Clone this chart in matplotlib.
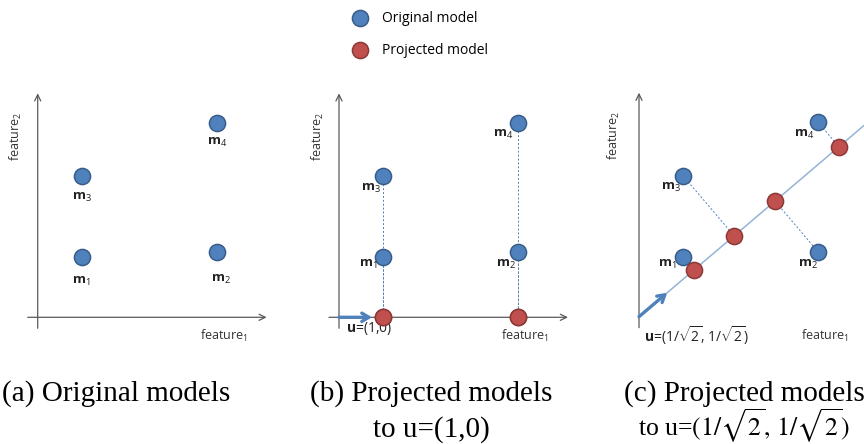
import matplotlib.pyplot as plt
import numpy as np

# sans text for the diagrams, mathtext follows the same family
plt.rcParams['font.family'] = ['Open Sans', 'DejaVu Sans']
plt.rcParams['mathtext.fontset'] = 'custom'
plt.rcParams['mathtext.rm'] = 'Open Sans'
plt.rcParams['mathtext.it'] = 'Open Sans:italic'
plt.rcParams['mathtext.bf'] = 'Open Sans:bold'

# model positions in feature space
feature1 = np.array([44, 179, 44, 179])
feature2 = np.array([60, 65, 141, 194.5])
model_ids = [1, 2, 3, 4]

# projection directions for panels (b) and (c)
u_b = np.array([1.0, 0.0])
u_c = np.array([1.0, 0.85])

legend_labels = ['Original model', 'Projected model']
captions = [
    ['(a) Original models'],
    ['(b) Projected models', 'to u=(1,0)'],
    ['(c) Projected models', r'to u=$(1/\sqrt{2},\,1/\sqrt{2})$'],
]
u_labels = [r'$\mathbf{u}$=(1,0)', r'$\mathbf{u}$=(1/$\sqrt{2}$, 1/$\sqrt{2}$)']

BLUE, BLUE_EDGE = '#4F81BD', '#385D8A'
RED, RED_EDGE = '#C0504D', '#8C3836'
AXIS = '#5A5A5A'

W, H = 864, 444
fig = plt.figure(figsize=(W / 100, H / 100), dpi=100)


def make_panel(left, width, origin, top=70, height=290):
    # one data unit = one pixel, origin of the feature axes at `origin`
    ox, oy = origin
    ax = fig.add_axes([left / W, 1 - (top + height) / H, width / W, height / H])
    ax.set_xlim(left - ox, left + width - ox)
    ax.set_ylim(oy - (top + height), oy - top)
    ax.axis('off')
    return ax


def draw_axes(ax, x_end=229, ylab_x=-22):
    arrow = dict(arrowstyle='->,head_length=0.45,head_width=0.22', color=AXIS,
                 lw=0.9, shrinkA=0, shrinkB=0)
    ax.annotate('', xy=(x_end, 0), xytext=(-10, 0), arrowprops=arrow)
    ax.annotate('', xy=(0, 224), xytext=(0, -11), arrowprops=arrow)
    ax.text(186, -19, r'feature$_1$', ha='center', va='center', fontsize=9, color='#333333')
    ax.text(ylab_x, 181, r'feature$_2$', ha='center', va='center', fontsize=9,
            color='#333333', rotation=90)


def draw_models(ax, offsets):
    sc = ax.scatter(feature1, feature2, s=135, color=BLUE, edgecolor=BLUE_EDGE,
                    linewidth=1.1, zorder=3)
    for x, y, i, (dx, dy) in zip(feature1, feature2, model_ids, offsets):
        ax.text(x + dx, y + dy, r'$\mathbf{m}_{%d}$' % i, ha='center', va='center',
                fontsize=9.5, color='#222222')
    return sc


def draw_projection(ax, u):
    d = u / np.linalg.norm(u)
    pts = np.column_stack([feature1, feature2])
    proj = np.outer(pts @ d, d)
    for p, q in zip(pts, proj):
        ax.plot([p[0], q[0]], [p[1], q[1]], color=BLUE, lw=0.7,
                linestyle=(0, (2, 2)), zorder=1)
    sc = ax.scatter(proj[:, 0], proj[:, 1], s=135, color=RED, edgecolor=RED_EDGE,
                    linewidth=1.1, zorder=4)
    return sc, d


# (a) original models
ax_a = make_panel(0, 290, (37.7, 317.3))
draw_axes(ax_a)
sc_orig = draw_models(ax_a, [(0, -24), (4, -27), (0, -21), (0, -20)])

# (b) projection onto feature1
ax_b = make_panel(290, 290, (339, 317.3))
draw_axes(ax_b, ylab_x=-21.5)
draw_models(ax_b, [(-15, -7), (-12, -12), (-12, -12), (-15, -12)])
sc_proj, d_b = draw_projection(ax_b, u_b)
ax_b.annotate('', xy=d_b * 33, xytext=(0, 0),
              arrowprops=dict(arrowstyle='->,head_length=0.5,head_width=0.3',
                              color=BLUE, lw=2.4, shrinkA=0, shrinkB=0))
ax_b.text(30, -11, u_labels[0], ha='center', va='center', fontsize=10, color='#222222')

# (c) projection onto the diagonal
ax_c = make_panel(580, 284, (639, 316.7))
draw_axes(ax_c, x_end=245, ylab_x=-25)
d_c = u_c / np.linalg.norm(u_c)
ax_c.plot([0, 300 * d_c[0]], [0, 300 * d_c[1]], color='#95B3D7', lw=1.1, zorder=1)
draw_models(ax_c, [(-16, -8), (-10, -13), (-12, -12), (-14, -12)])
draw_projection(ax_c, u_c)
ax_c.annotate('', xy=d_c * 37, xytext=(0, 0),
              arrowprops=dict(arrowstyle='->,head_length=0.5,head_width=0.3',
                              color=BLUE, lw=2.4, shrinkA=0, shrinkB=0))
ax_c.text(57.5, -19, u_labels[1], ha='center', va='center', fontsize=10, color='#222222')

# legend at the top centre
fig.legend([sc_orig, sc_proj], legend_labels, loc='upper left',
           bbox_to_anchor=(351.7 / W, 1 - 11 / H), frameon=False, fontsize=10,
           labelspacing=1.2, handletextpad=1.0, handlelength=1.2,
           borderpad=0, borderaxespad=0, scatterpoints=1)

# captions under each panel; the line with radicals is set a bit smaller
caption_x = [116, 431, 744]
for x, lines in zip(caption_x, captions):
    for k, line in enumerate(lines):
        size = 18.5 if 'sqrt' in line else 21
        fig.text(x / W, 1 - (401 + 35.5 * k) / H, line, ha='center', va='baseline',
                 fontsize=size, family='Liberation Serif', math_fontfamily='stix')

fig.savefig('out.png', dpi=100)
